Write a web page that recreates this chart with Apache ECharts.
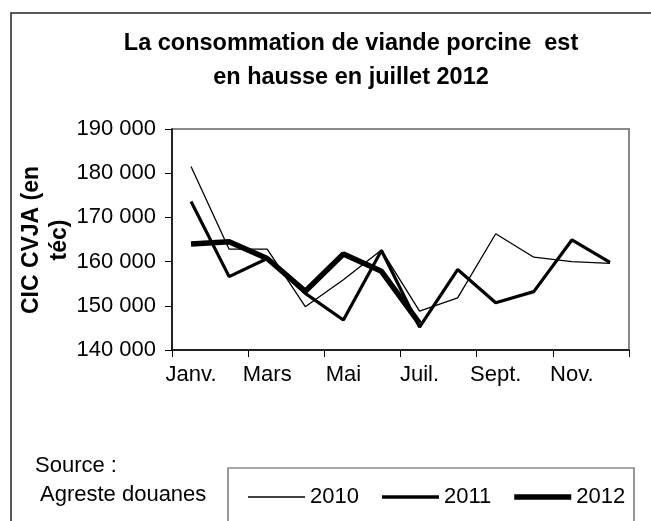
<!DOCTYPE html>
<html>
<head>
<meta charset="utf-8">
<script src="https://cdn.jsdelivr.net/npm/echarts@6/dist/echarts.min.js"></script>
<style>
  html, body { margin: 0; padding: 0; background: #fff; }
  #main { width: 651px; height: 521px; }
</style>
</head>
<body>
<div id="main"></div>
<script>
// données
const months = ['Janv.', 'Févr.', 'Mars', 'Avr.', 'Mai', 'Juin', 'Juil.', 'Août', 'Sept.', 'Oct.', 'Nov.', 'Déc.'];
const conso2010 = [181500, 162800, 162800, 149800, 155900, 162600, 148800, 151800, 166300, 161000, 160000, 159600];
const conso2011 = [173600, 156600, 160700, 152800, 146800, 162500, 145200, 158200, 150700, 153200, 164900, 159800];
const conso2012 = [164000, 164500, 160700, 153300, 161700, 157800, 146000];
const yTicks = [140000, 150000, 160000, 170000, 180000, 190000];

const font = 'Liberation Sans, Arial, sans-serif';
const chart = echarts.init(document.getElementById('main'));

// format "190 000"
const fmt = function (v) {
  return String(v).replace(/\B(?=(\d{3})+(?!\d))/g, ' ');
};

// trait de légende (épaisseur en px)
const legendLine = function (w) {
  return 'path://M0,0H57V' + w + 'H0Z';
};

chart.setOption({
  animation: false,
  backgroundColor: '#fff',
  title: {
    text: 'La consommation de viande porcine  est\nen hausse en juillet 2012',
    left: 346,
    top: 22,
    textAlign: 'center',
    textStyle: { fontFamily: font, fontSize: 23.5, fontWeight: 'bold', color: '#000', lineHeight: 34 }
  },
  legend: {
    left: 243,
    top: 481,
    itemWidth: 57,
    itemHeight: 14,
    itemGap: 23,
    symbolKeepAspect: true,
    textStyle: { fontFamily: font, fontSize: 22, color: '#000' },
    data: [
      { name: '2010', icon: legendLine(1.4) },
      { name: '2011', icon: legendLine(3.3) },
      { name: '2012', icon: legendLine(5.5) }
    ]
  },
  grid: {
    left: 172, top: 129, width: 457, height: 221,
    show: true, borderColor: '#888', borderWidth: 2, backgroundColor: '#fff'
  },
  xAxis: {
    type: 'category',
    data: months,
    boundaryGap: true,
    axisLine: { lineStyle: { color: '#000', width: 1.5 } },
    axisTick: { show: true, length: 7, inside: false, lineStyle: { color: '#000' } },
    axisLabel: { interval: 1, margin: 14, fontFamily: font, fontSize: 22, color: '#000' },
    splitLine: { show: false }
  },
  yAxis: {
    type: 'value',
    min: yTicks[0],
    max: yTicks[yTicks.length - 1],
    interval: 10000,
    axisLine: { show: true, lineStyle: { color: '#000', width: 1.5 } },
    axisTick: { show: true, length: 7, lineStyle: { color: '#000' } },
    axisLabel: { margin: 16, fontFamily: font, fontSize: 22, color: '#000', formatter: fmt },
    splitLine: { show: false }
  },
  series: [
    { name: '2010', type: 'line', data: conso2010, symbol: 'none', color: '#000', lineStyle: { width: 1.3, color: '#000' } },
    { name: '2011', type: 'line', data: conso2011, symbol: 'none', color: '#000', lineStyle: { width: 3.2, color: '#000' } },
    { name: '2012', type: 'line', data: conso2012, symbol: 'none', color: '#000', lineStyle: { width: 5.5, color: '#000' } }
  ],
  graphic: [
    // cadre extérieur
    { type: 'rect', shape: { x: 11, y: 13, width: 700, height: 600 }, style: { fill: null, stroke: '#222', lineWidth: 1.5 }, z: 0 },
    // cadre de la légende
    { type: 'rect', shape: { x: 228, y: 468, width: 406, height: 80 }, style: { fill: null, stroke: '#555', lineWidth: 1.2 } },
    // titre de l'axe vertical
    {
      type: 'text', x: 46, y: 240, rotation: Math.PI / 2,
      style: {
        text: 'CIC CVJA (en\ntéc)', fontFamily: font, fontSize: 23, fontWeight: 'bold',
        fill: '#000', align: 'center', verticalAlign: 'middle', lineHeight: 28
      }
    },
    { type: 'text', x: 35, y: 466, style: { text: 'Source :', fontFamily: font, fontSize: 22, fill: '#000', verticalAlign: 'middle' } },
    { type: 'text', x: 40, y: 495, style: { text: 'Agreste douanes', fontFamily: font, fontSize: 22, fill: '#000', verticalAlign: 'middle' } }
  ]
});
</script>
</body>
</html>
